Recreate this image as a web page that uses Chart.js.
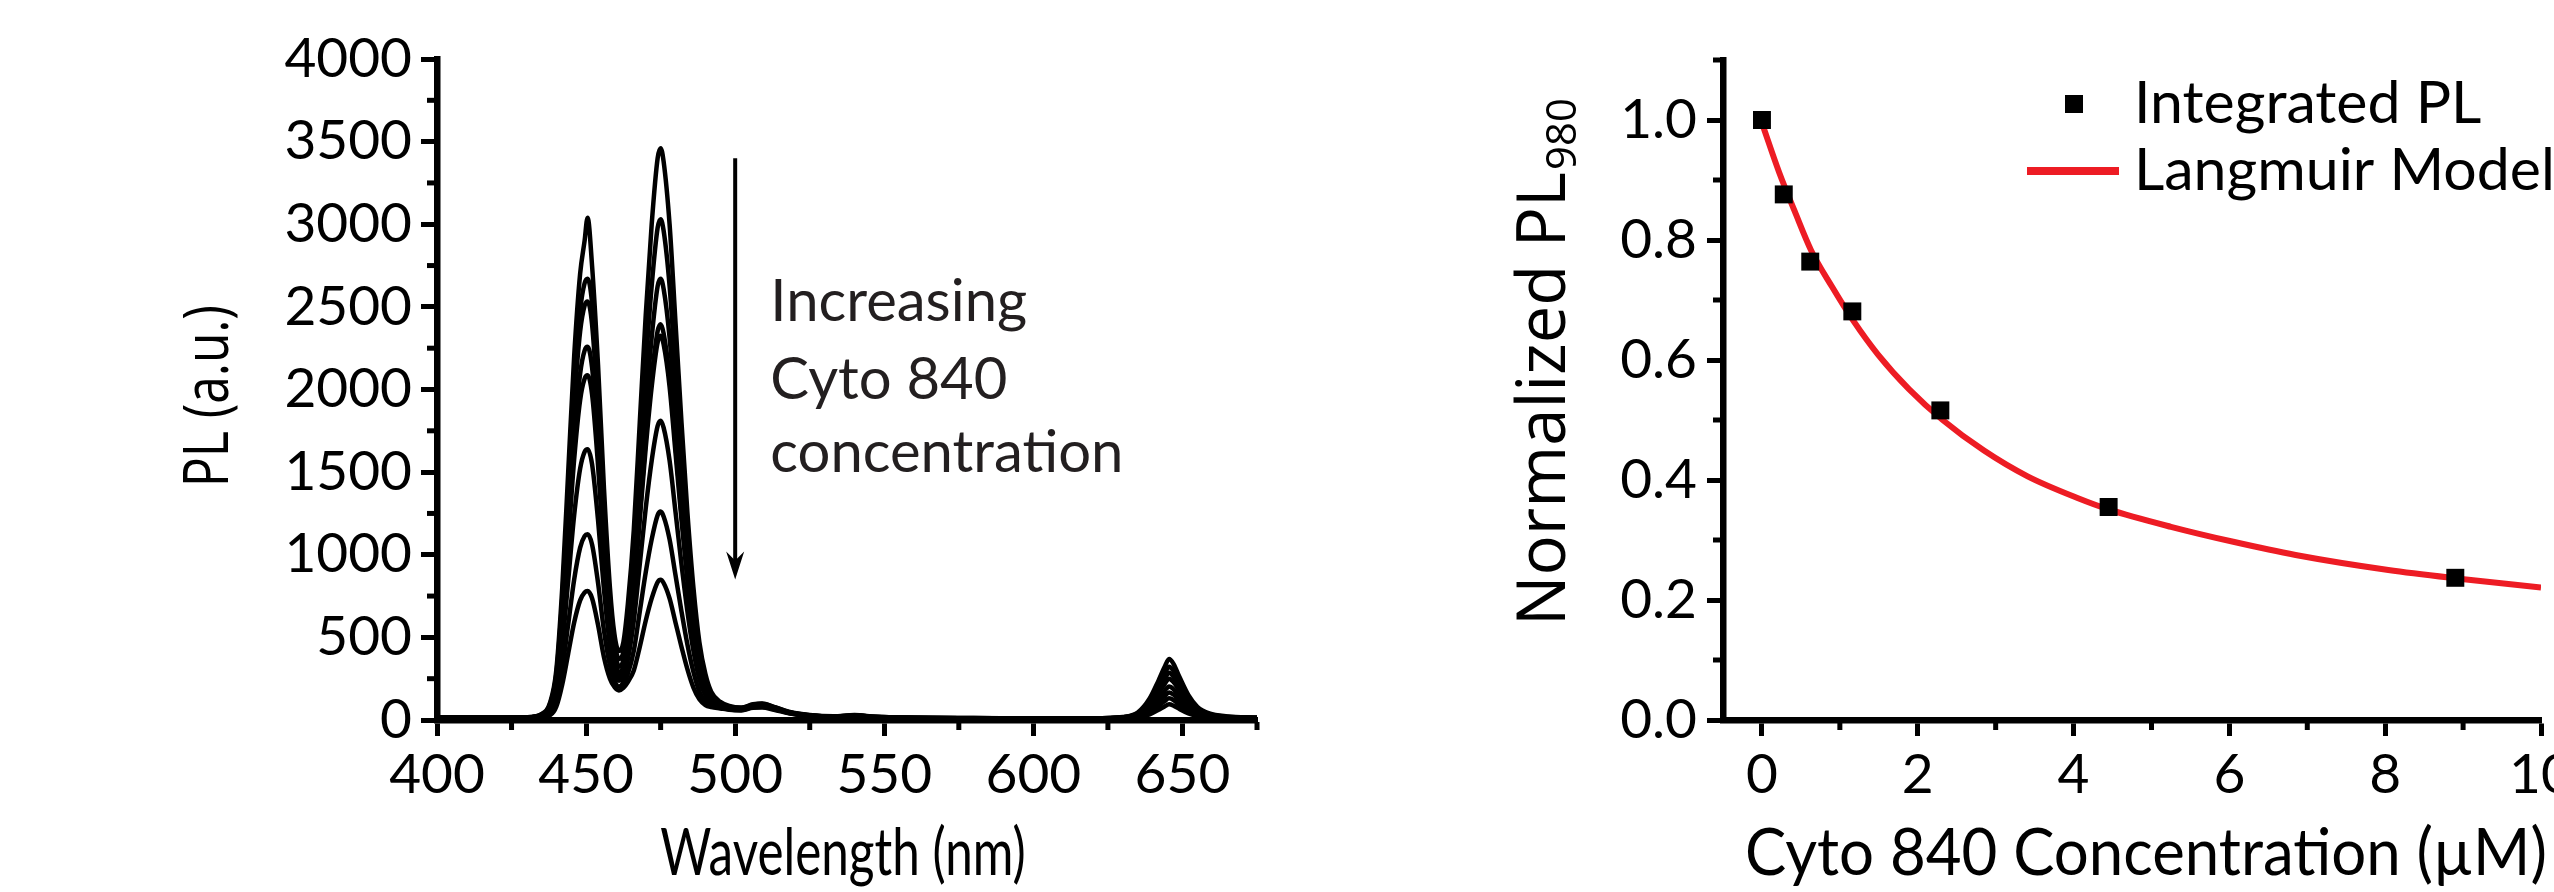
<!DOCTYPE html>
<html>
<head>
<meta charset="utf-8">
<script src="https://cdn.jsdelivr.net/npm/chart.js@4.4.1/dist/chart.umd.min.js"></script>
<style>
  html, body { margin: 0; padding: 0; background: #fff; overflow: hidden; }
  body { width: 2554px; height: 892px; position: relative; }
  #leftWrap { position: absolute; left: 0; top: 0; width: 1300px; height: 892px; }
  #rightWrap { position: absolute; left: 1300px; top: 0; width: 1400px; height: 892px; }
</style>
</head>
<body>
<div id="leftWrap"><canvas id="spectraChart" width="1300" height="892"></canvas></div>
<div id="rightWrap"><canvas id="langmuirChart" width="1400" height="892"></canvas></div>
<script>
// ---- left panel: PL spectra (a.u.) vs wavelength (nm) ----
const wavelength = [400, 420, 430, 435, 438, 440, 442, 444, 446, 448, 449.5, 450.5, 452, 454, 456, 458, 459.5,
  461, 462.5, 464, 466, 468, 470, 472, 474, 475, 476, 478, 480, 482, 484, 486, 488, 490, 492, 495, 498,
  502, 506, 509, 513, 518, 525, 533, 540, 547, 560, 580, 600, 620,
  630, 635, 639, 642, 644, 645.5, 647, 649, 652, 655, 659, 665, 675];

const spectrum1 = [15, 14, 16, 35,
  110, 300, 800, 1500, 2200, 2700, 2900, 3040, 2750, 2150, 1400, 800, 520,
  417,
  470, 700, 1150, 1800, 2450, 3000, 3400, 3460, 3380, 3000, 2400, 1800, 1250, 800, 470, 280, 170, 110, 85,
  75, 95, 100, 80, 50, 30, 22, 30, 20, 14, 12, 10, 10,
  18, 45, 130, 240, 320, 369, 340, 260, 150, 80, 40, 22, 14];
const spectrum2 = [15, 14, 16, 33,
  101, 275, 734, 1375, 2018, 2478, 2643, 2670, 2523, 1973, 1284, 734, 478,
  369,
  412, 612, 1006, 1576, 2146, 2628, 2979, 3031, 2961, 2628, 2103, 1576, 1094, 700, 412, 245, 150, 100, 80,
  72, 92, 98, 78, 48, 29, 21, 28, 19, 13, 12, 10, 10,
  17, 40, 115, 210, 280, 322, 297, 227, 131, 70, 36, 20, 13];
const spectrum3 = [15, 13, 15, 32,
  96, 261, 697, 1304, 1915, 2351, 2508, 2533, 2394, 1872, 1218, 697, 453,
  322,
  363, 539, 886, 1388, 1890, 2315, 2625, 2670, 2609, 2315, 1853, 1388, 964, 617, 363, 216, 135, 95, 78,
  70, 90, 95, 76, 47, 28, 20, 27, 18, 13, 11, 10, 10,
  16, 36, 101, 186, 248, 286, 263, 202, 116, 62, 32, 18, 13];
const spectrum4 = [14, 13, 15, 30,
  86, 233, 621, 1163, 1707, 2095, 2235, 2258, 2134, 1669, 1086, 621, 404,
  286,
  326, 484, 795, 1245, 1696, 2076, 2354, 2395, 2340, 2076, 1662, 1245, 865, 553, 326, 194, 125, 90, 75,
  68, 87, 92, 74, 46, 27, 20, 26, 18, 12, 11, 10, 9,
  15, 32, 88, 163, 217, 250, 230, 176, 102, 55, 29, 17, 12];
const spectrum5 = [14, 13, 15, 28,
  79, 215, 574, 1074, 1577, 1936, 2065, 2086, 1971, 1542, 1003, 574, 373,
  262,
  316, 470, 772, 1210, 1647, 2017, 2286, 2326, 2273, 2017, 1614, 1210, 840, 537, 316, 188, 120, 88, 72,
  66, 85, 90, 72, 45, 26, 19, 25, 17, 12, 11, 10, 9,
  14, 27, 72, 132, 176, 203, 187, 143, 83, 45, 25, 16, 12];
const spectrum6 = [14, 12, 14, 25,
  62, 169, 451, 844, 1239, 1521, 1623, 1639, 1549, 1211, 788, 451, 310,
  238,
  265, 366, 601, 942, 1282, 1570, 1780, 1811, 1769, 1570, 1257, 942, 654, 418, 246, 150, 105, 82, 68,
  62, 82, 85, 70, 44, 25, 18, 24, 16, 12, 10, 9, 9,
  13, 23, 59, 109, 145, 167, 154, 118, 68, 37, 21, 15, 12];
const spectrum7 = [13, 12, 14, 22,
  43, 116, 309, 579, 850, 1043, 1113, 1124, 1062, 831, 541, 330, 240,
  203,
  225, 280, 419, 656, 893, 1093, 1240, 1261, 1232, 1093, 875, 656, 455, 291, 172, 112, 90, 75, 64,
  60, 78, 80, 66, 42, 24, 18, 23, 15, 11, 10, 9, 9,
  12, 19, 46, 85, 114, 131, 121, 92, 54, 30, 18, 14, 11];
const spectrum8 = [13, 12, 13, 20,
  30, 80, 215, 402, 590, 724, 772, 780, 737, 576, 380, 250, 200,
  179,
  195, 230, 300, 442, 601, 736, 835, 849, 829, 736, 589, 442, 306, 196, 125, 90, 78, 70, 62,
  58, 74, 75, 62, 40, 23, 17, 22, 15, 11, 10, 9, 9,
  11, 15, 34, 62, 82, 95, 87, 67, 40, 24, 16, 13, 11];
const spectra = [spectrum1, spectrum2, spectrum3, spectrum4, spectrum5, spectrum6, spectrum7, spectrum8];

const wlTicks = [400, 450, 500, 550, 600, 650];
const wlMinorTicks = [425, 475, 525, 575, 625, 675];
const plTicks = [0, 500, 1000, 1500, 2000, 2500, 3000, 3500, 4000];
const plMinorTicks = [250, 750, 1250, 1750, 2250, 2750, 3250, 3750];

// arrow: x, start y, end y (data units)
const arrowX = 500;
const arrowFrom = 3400;
const arrowTo = 850;
const noteLines = ['Increasing', 'Cyto 840', 'concentration'];
const noteX = 511.8;
const noteBaselines = [2417, 1945, 1500];

// ---- right panel: normalized PL980 vs Cyto 840 concentration ----
const concentration = [0, 0.28, 0.62, 1.16, 2.29, 4.45, 8.9];
const normalizedPL = [1.0, 0.876, 0.764, 0.681, 0.516, 0.355, 0.237];
const fitX = [0, 0.22, 0.42, 0.63, 0.9, 1.17, 1.49, 1.89, 2.32, 2.85, 3.41, 4.05, 4.45, 5.25, 6.05, 6.85, 8.04, 8.92, 10];
const fitY = [0.995, 0.913, 0.848, 0.783, 0.722, 0.666, 0.609, 0.551, 0.5, 0.449, 0.406, 0.37, 0.351, 0.322, 0.297, 0.275, 0.25, 0.236, 0.221];

const concTicks = [0, 2, 4, 6, 8, 10];
const concMinorTicks = [1, 3, 5, 7, 9];
const normTicks = [0, 0.2, 0.4, 0.6, 0.8, 1.0];
const normMinorTicks = [0.1, 0.3, 0.5, 0.7, 0.9, 1.1];

const tickFont = { family: 'Lato', size: 55 };
const RED = '#ED1C24';

// minor tick marks on both axes
const minorTicks = {
  id: 'minorTicks',
  afterDraw(chart, args, opts) {
    const ctx = chart.ctx;
    const xs = chart.scales.x, ys = chart.scales.y;
    ctx.save();
    ctx.strokeStyle = '#000';
    ctx.lineWidth = 5;
    opts.x.forEach(v => {
      const px = xs.getPixelForValue(v);
      ctx.beginPath(); ctx.moveTo(px, xs.top + 2); ctx.lineTo(px, xs.top + opts.len); ctx.stroke();
    });
    opts.y.forEach(v => {
      const py = ys.getPixelForValue(v);
      ctx.beginPath(); ctx.moveTo(ys.right - 2, py); ctx.lineTo(ys.right - opts.len, py); ctx.stroke();
    });
    ctx.restore();
  }
};

// axis titles: x title under the axis, rotated y title with optional subscript
const axisTitles = {
  id: 'axisTitles',
  afterDraw(chart, args, opts) {
    const ctx = chart.ctx;
    const xs = chart.scales.x;
    ctx.save();
    ctx.fillStyle = '#000';
    // x title
    const xt = opts.x;
    ctx.save();
    ctx.translate((xs.left + xs.right) / 2 + xt.dx, xt.y);
    ctx.scale(xt.squeeze, 1);
    ctx.font = xt.size + 'px ' + xt.family;
    ctx.textAlign = 'center';
    ctx.textBaseline = 'alphabetic';
    ctx.fillText(xt.text, 0, 0);
    ctx.restore();
    // y title
    const yt = opts.y;
    ctx.translate(yt.x, yt.y);
    ctx.rotate(-Math.PI / 2);
    ctx.scale(yt.squeeze, 1);
    ctx.textBaseline = 'alphabetic';
    ctx.font = yt.size + 'px ' + yt.family;
    const w1 = ctx.measureText(yt.text).width;
    let w2 = 0;
    const subSize = Math.round(yt.size * 0.62);
    if (yt.sub) {
      ctx.font = subSize + 'px ' + yt.family;
      w2 = ctx.measureText(yt.sub).width;
    }
    const x0 = -(w1 + w2) / 2;
    const base = yt.size * 0.36;
    ctx.font = yt.size + 'px ' + yt.family;
    ctx.fillText(yt.text, x0, base);
    if (yt.sub) {
      ctx.font = subSize + 'px ' + yt.family;
      ctx.fillText(yt.sub, x0 + w1 + 2, base + yt.size * 0.16);
    }
    ctx.restore();
  }
};

// arrow and note on the spectra
const arrowNote = {
  id: 'arrowNote',
  afterDatasetsDraw(chart) {
    const ctx = chart.ctx;
    const xs = chart.scales.x, ys = chart.scales.y;
    const px = xs.getPixelForValue(arrowX);
    const y0 = ys.getPixelForValue(arrowFrom);
    const y1 = ys.getPixelForValue(arrowTo);
    ctx.save();
    ctx.strokeStyle = '#000';
    ctx.fillStyle = '#000';
    ctx.lineWidth = 4;
    ctx.beginPath(); ctx.moveTo(px, y0); ctx.lineTo(px, y1 - 14); ctx.stroke();
    ctx.beginPath();
    ctx.moveTo(px, y1);
    ctx.lineTo(px - 9, y1 - 28);
    ctx.lineTo(px, y1 - 19);
    ctx.lineTo(px + 9, y1 - 28);
    ctx.closePath();
    ctx.fill();
    ctx.font = '58px Lato';
    ctx.fillStyle = '#231f20';
    ctx.textAlign = 'left';
    ctx.textBaseline = 'alphabetic';
    const tx = xs.getPixelForValue(noteX);
    noteLines.forEach((t, i) => ctx.fillText(t, tx, ys.getPixelForValue(noteBaselines[i])));
    ctx.restore();
  }
};

// legend of the right panel, drawn from the dataset styles
const sideLegend = {
  id: 'sideLegend',
  afterDraw(chart, args, opts) {
    const ctx = chart.ctx;
    const ds = chart.data.datasets;
    ctx.save();
    ctx.font = '59px Lato';
    ctx.textBaseline = 'middle';
    ctx.fillStyle = ds[0].backgroundColor;
    ctx.fillRect(opts.markerX - 9, opts.row1 - 9, 18, 18);
    ctx.fillStyle = '#000';
    ctx.fillText(ds[0].label, opts.textX, opts.row1);
    ctx.strokeStyle = ds[1].borderColor;
    ctx.lineWidth = 8;
    ctx.beginPath(); ctx.moveTo(opts.lineX0, opts.row2); ctx.lineTo(opts.lineX1, opts.row2); ctx.stroke();
    ctx.fillText(ds[1].label, opts.textX, opts.row2);
    ctx.restore();
  }
};

function axisStyle(extra) {
  return Object.assign({
    type: 'linear',
    grid: { drawOnChartArea: false, drawTicks: true, tickLength: 16, tickWidth: 5, tickColor: '#000' },
    border: { display: true, color: '#000', width: 6.5 }
  }, extra);
}

new Chart(document.getElementById('spectraChart'), {
  type: 'scatter',
  data: {
    datasets: spectra.map(s => ({
      data: wavelength.map((w, i) => ({ x: w, y: s[i] })),
      showLine: true,
      borderColor: '#000',
      borderWidth: 4.5,
      pointRadius: 0,
      cubicInterpolationMode: 'monotone',
      fill: false
    }))
  },
  options: {
    responsive: false,
    animation: false,
    events: [],
    layout: { padding: { left: 0, top: 59, right: 43, bottom: 0 } },
    scales: {
      x: axisStyle({
        min: 400, max: 675,
        afterFit: s => { s.height = 172; },
        afterBuildTicks: s => { s.ticks = wlTicks.map(v => ({ value: v })); },
        ticks: { color: '#000', font: tickFont, maxRotation: 0, autoSkip: false, padding: 6, callback: v => String(v) }
      }),
      y: axisStyle({
        min: 0, max: 4000,
        afterFit: s => { s.width = 437; },
        afterBuildTicks: s => { s.ticks = plTicks.map(v => ({ value: v })); },
        ticks: { color: '#000', font: tickFont, autoSkip: false, padding: 9, callback: v => String(v) }
      })
    },
    plugins: {
      legend: { display: false },
      tooltip: { enabled: false },
      minorTicks: { x: wlMinorTicks, y: plMinorTicks, len: 10 },
      axisTitles: {
        x: { text: 'Wavelength (nm)', family: 'Lato', size: 65, squeeze: 0.76, dx: -4, y: 875 },
        y: { text: 'PL (a.u.)', family: 'Open Sans', size: 62, squeeze: 0.8, x: 206, y: 396 }
      }
    }
  },
  plugins: [minorTicks, axisTitles, arrowNote]
});

new Chart(document.getElementById('langmuirChart'), {
  type: 'scatter',
  data: {
    datasets: [
      {
        label: 'Integrated PL',
        data: concentration.map((c, i) => ({ x: c, y: normalizedPL[i] })),
        pointStyle: 'rect',
        pointRadius: 12.7,
        backgroundColor: '#000',
        borderColor: '#000',
        borderWidth: 0,
        clip: false
      },
      {
        label: 'Langmuir Model',
        data: fitX.map((c, i) => ({ x: c, y: fitY[i] })),
        showLine: true,
        borderColor: RED,
        borderWidth: 6,
        pointRadius: 0,
        cubicInterpolationMode: 'monotone',
        fill: false
      }
    ]
  },
  options: {
    responsive: false,
    animation: false,
    events: [],
    layout: { padding: { left: 0, top: 60, right: 159, bottom: 0 } },
    scales: {
      x: axisStyle({
        min: -0.5, max: 10,
        afterFit: s => { s.height = 172; },
        afterBuildTicks: s => { s.ticks = concTicks.map(v => ({ value: v })); },
        ticks: { color: '#000', font: tickFont, maxRotation: 0, autoSkip: false, padding: 6, callback: v => String(v) }
      }),
      y: axisStyle({
        min: 0, max: 1.1,
        afterFit: s => { s.width = 423; },
        afterBuildTicks: s => { s.ticks = normTicks.map(v => ({ value: v })); },
        ticks: { color: '#000', font: tickFont, autoSkip: false, padding: 10, callback: v => v.toFixed(1) }
      })
    },
    plugins: {
      legend: { display: false },
      tooltip: { enabled: false },
      minorTicks: { x: concMinorTicks, y: normMinorTicks, len: 10 },
      axisTitles: {
        x: { text: 'Cyto 840 Concentration (µM)', family: 'Lato', size: 65, squeeze: 0.95, dx: 14, y: 875 },
        y: { text: 'Normalized PL', sub: '980', family: 'Open Sans', size: 67, squeeze: 1, x: 241, y: 363 }
      },
      sideLegend: { markerX: 774, textX: 834, lineX0: 727, lineX1: 819, row1: 104, row2: 171 }
    }
  },
  plugins: [minorTicks, axisTitles, sideLegend]
});
</script>
</body>
</html>
